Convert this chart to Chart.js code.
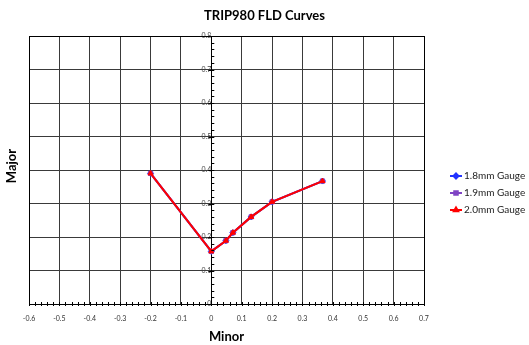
<!DOCTYPE html>
<html>
<head>
<meta charset="utf-8">
<script src="https://cdn.jsdelivr.net/npm/chart.js@4.4.1/dist/chart.umd.min.js"></script>
<style>
  html, body { margin: 0; padding: 0; background: #fff; }
  #wrap { width: 529px; height: 345px; }
</style>
</head>
<body>
<div id="wrap"><canvas id="c" width="529" height="345"></canvas></div>
<script>
const chartTitle = 'TRIP980 FLD Curves';
const xTitle = 'Minor';
const yTitle = 'Major';
const seriesNames = ['1.8mm Gauge', '1.9mm Gauge', '2.0mm Gauge'];
const minorStrain = [-0.2, 0, 0.048, 0.071, 0.131, 0.2, 0.366];
const major18 = [0.39, 0.157, 0.189, 0.213, 0.26, 0.305, 0.367];
const major19 = [0.39, 0.157, 0.189, 0.213, 0.26, 0.305, 0.367];
const major20 = [0.39, 0.157, 0.189, 0.213, 0.26, 0.305, 0.367];
const seriesColors = ['#2233ff', '#7f44c4', '#ff0000'];
const seriesMarkers = ['rectRot', 'rect', 'triangle'];

const FONT = 'Lato, "Liberation Sans", sans-serif';

function pts(ys) { return minorStrain.map((x, i) => ({x: x, y: ys[i]})); }
const allMajor = [major18, major19, major20];

const datasets = allMajor.map((ys, i) => ({
  label: seriesNames[i],
  data: pts(ys),
  showLine: true,
  borderColor: seriesColors[i],
  backgroundColor: seriesColors[i],
  borderWidth: 2,
  pointStyle: seriesMarkers[i],
  pointRadius: 3,
  pointBorderWidth: 1,
  order: 2 - i
}));

const extras = {
  id: 'extras',
  afterDraw(chart) {
    const ctx = chart.ctx;
    const xs = chart.scales.x, ys = chart.scales.y;
    const ca = chart.chartArea;
    const x0 = xs.getPixelForValue(0);
    ctx.save();
    // outer border
    ctx.strokeStyle = '#000';
    ctx.lineWidth = 1;
    ctx.strokeRect(Math.round(ca.left) + 0.5, Math.round(ca.top) + 0.5,
      Math.round(ca.right - ca.left), Math.round(ca.bottom - ca.top));
    // minor ticks x
    ctx.beginPath();
    for (let i = -30; i <= 35; i++) {
      const px = Math.round(xs.getPixelForValue(i * 0.02)) + 0.5;
      ctx.moveTo(px, ca.bottom - 2);
      ctx.lineTo(px, ca.bottom + 2);
    }
    // minor ticks y
    for (let i = 0; i <= 40; i++) {
      const py = Math.round(ys.getPixelForValue(i * 0.02)) + 0.5;
      const major = i % 5 === 0;
      ctx.moveTo(x0 - (major ? 3 : 0), py);
      ctx.lineTo(x0 + 3, py);
    }
    ctx.stroke();
    // title
    ctx.fillStyle = '#000';
    ctx.font = 'bold 13px ' + FONT;
    ctx.textAlign = 'center';
    ctx.textBaseline = 'middle';
    ctx.fillText(chartTitle, chart.width / 2, 16);
    // y title
    ctx.font = 'bold 13px ' + FONT;
    ctx.translate(12, 166);
    ctx.rotate(-Math.PI / 2);
    ctx.fillText(yTitle, 0, 0);
    ctx.restore();
    // legend
    ctx.save();
    ctx.font = '10px ' + FONT;
    ctx.textAlign = 'left';
    ctx.textBaseline = 'middle';
    const lx = 450, lw = 12, ly0 = 176, lstep = 17;
    seriesNames.forEach((name, i) => {
      const y = ly0 + i * lstep;
      ctx.strokeStyle = seriesColors[i];
      ctx.lineWidth = 2;
      ctx.beginPath();
      ctx.moveTo(lx, y); ctx.lineTo(lx + lw, y);
      ctx.stroke();
      Chart.helpers.drawPoint(ctx, {pointStyle: seriesMarkers[i], radius: 2.5, borderWidth: 1, rotation: 0},
        lx + lw / 2, y);
      ctx.fillStyle = seriesColors[i];
      ctx.fill();
      ctx.fillStyle = '#222';
      ctx.fillText(name, lx + lw + 2, y);
    });
    ctx.restore();
  }
};

new Chart(document.getElementById('c'), {
  type: 'scatter',
  data: { datasets: datasets },
  plugins: [extras],
  options: {
    responsive: false,
    animation: false,
    devicePixelRatio: 1,
    layout: { padding: { left: 29, right: 105, top: 36, bottom: 0 } },
    plugins: {
      legend: { display: false },
      title: { display: false },
      tooltip: { enabled: false }
    },
    scales: {
      x: {
        type: 'linear',
        min: -0.6, max: 0.7,
        ticks: { stepSize: 0.1, font: { family: FONT, size: 7 }, color: '#333', padding: 11,
          callback: v => Math.round(v * 10) / 10 },
        grid: { color: '#3a3a3a', lineWidth: 1, drawTicks: false },
        border: { color: '#000', width: 1 },
        title: { display: true, text: xTitle, font: { family: FONT, size: 13, weight: 'bold' }, color: '#000',
          padding: { top: -5, bottom: 0 } }
      },
      y: {
        type: 'linear',
        position: { x: 0 },
        min: 0, max: 0.8,
        ticks: { stepSize: 0.1, font: { family: FONT, size: 7 }, color: '#444', padding: 6,
          callback: v => Math.round(v * 10) / 10 },
        grid: { color: '#3a3a3a', lineWidth: 1, drawTicks: false },
        border: { color: '#000', width: 1 }
      }
    }
  }
});
</script>
</body>
</html>
